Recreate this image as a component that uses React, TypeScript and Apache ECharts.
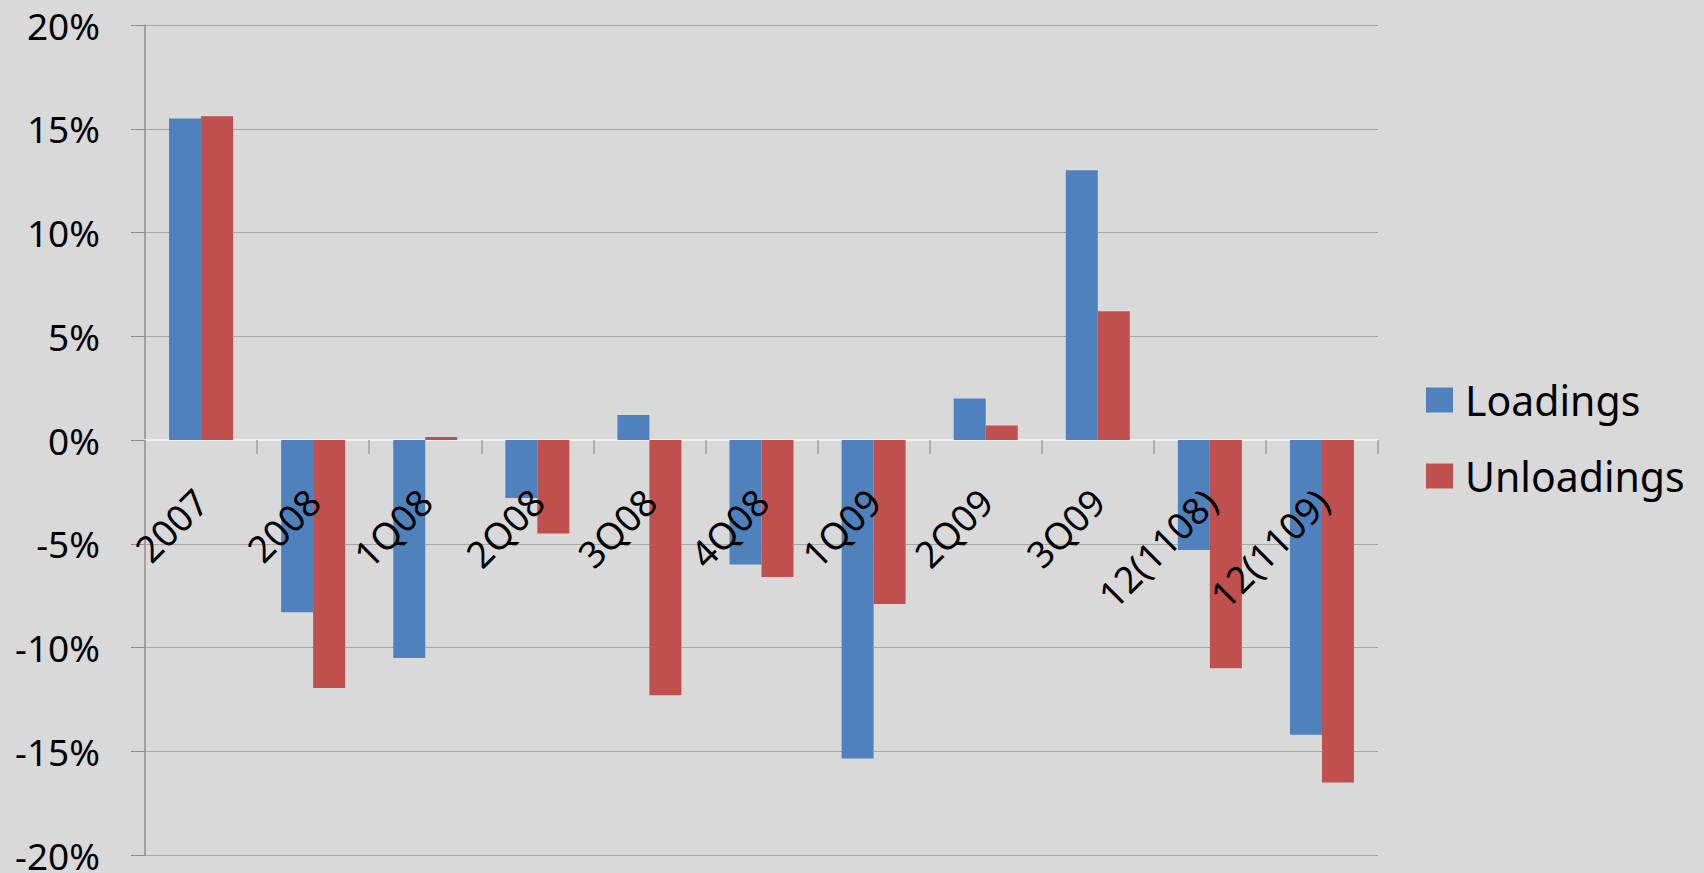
import React, { useEffect, useRef } from "react";
import * as echarts from "echarts";

const categories = ["2007", "2008", "1Q08", "2Q08", "3Q08", "4Q08", "1Q09", "2Q09", "3Q09", "12(1108)", "12(1109)"];
const loadings = [15.5, -8.3, -10.5, -2.8, 1.2, -6.0, -15.35, 2.0, 13.0, -5.3, -14.2];
const unloadings = [15.6, -11.95, 0.15, -4.5, -12.3, -6.6, -7.9, 0.7, 6.2, -11.0, -16.5];
const seriesNames = ["Loadings", "Unloadings"];
const yMin = -20;
const yMax = 20;
const yStep = 5;

const FONT = "'Noto Sans', 'Liberation Sans', sans-serif";
const GRID_TOP = 25;
const GRID_BOTTOM = 18;
const CHART_H = 873;

export default function App() {
  const ref = useRef<HTMLDivElement>(null);
  useEffect(() => {
    document.body.style.margin = "0";
    const chart = echarts.init(ref.current!, null, { renderer: "svg" });
    const plotH = CHART_H - GRID_TOP - GRID_BOTTOM;
    // distance from grid bottom to the zero line, so the label axis sits on zero
    const zeroOffset = -((0 - yMin) / (yMax - yMin)) * plotH;
    chart.setOption({
      animation: false,
      backgroundColor: "#d9d9d9",
      textStyle: { fontFamily: FONT },
      grid: {
        left: 145,
        right: 326,
        top: GRID_TOP,
        bottom: GRID_BOTTOM,
        containLabel: false,
        outerBoundsMode: "none",
      },
      legend: {
        orient: "vertical",
        left: 1421,
        top: 374,
        itemWidth: 27,
        itemHeight: 25,
        itemGap: 34,
        icon: "rect",
        textStyle: { fontSize: 41, color: "#000", fontFamily: FONT, lineHeight: 42, padding: [0, 0, 0, 7] },
        data: seriesNames,
      },
      xAxis: [
        {
          type: "category",
          data: categories,
          boundaryGap: true,
          axisLine: { show: true, onZero: true, lineStyle: { color: "#efefef", width: 2 } },
          axisTick: { show: true, length: 14, lineStyle: { color: "#a0a0a0", width: 1.5 } },
          axisLabel: { show: false },
          splitLine: { show: false },
        },
        {
          type: "category",
          data: categories,
          position: "bottom",
          offset: zeroOffset,
          boundaryGap: true,
          axisLine: { show: false, onZero: false },
          axisTick: { show: false },
          axisLabel: {
            rotate: 45,
            fontSize: 37,
            color: "#000",
            fontFamily: FONT,
            margin: 55,
            verticalAlign: "middle",
            lineHeight: 37,
            interval: 0,
          },
          splitLine: { show: false },
          z: 10,
        },
      ],
      yAxis: {
        type: "value",
        min: yMin,
        max: yMax,
        interval: yStep,
        axisLine: { show: true, lineStyle: { color: "#8e8e8e", width: 1.5 } },
        axisTick: { show: true, length: 14, lineStyle: { color: "#8e8e8e", width: 1 } },
        axisLabel: {
          formatter: "{value}%",
          fontSize: 37,
          lineHeight: 36,
          color: "#000",
          fontFamily: FONT,
          margin: 45,
        },
        splitLine: { show: true, lineStyle: { color: "#a6a6a6", width: 1.2 } },
      },
      series: [
        {
          name: seriesNames[0],
          type: "bar",
          xAxisIndex: 0,
          data: loadings,
          barWidth: 32,
          barGap: "0%",
          itemStyle: { color: "#4f81bd" },
          z: 2,
        },
        {
          name: seriesNames[1],
          type: "bar",
          xAxisIndex: 0,
          data: unloadings,
          barWidth: 32,
          barGap: "0%",
          itemStyle: { color: "#c0504d" },
          z: 2,
        },
      ],
    });
    return () => chart.dispose();
  }, []);
  return (
    <div
      ref={ref}
      style={{ position: "absolute", left: 0, top: 0, width: 1704, height: 873 }}
    />
  );
}
